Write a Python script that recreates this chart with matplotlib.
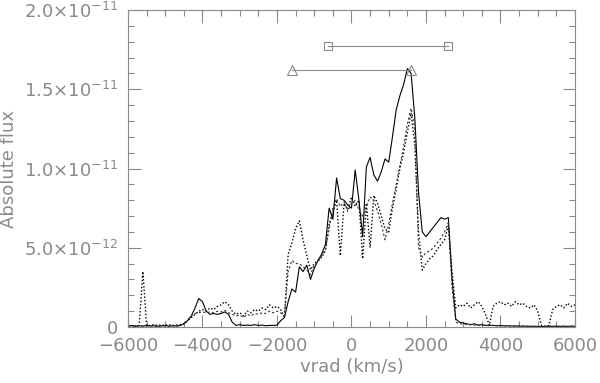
import matplotlib
matplotlib.use("Agg")
import matplotlib.pyplot as plt
import numpy as np
from matplotlib.ticker import MultipleLocator, FixedLocator

# velocity grid (km/s), flux in units of 1e-12
vrad = np.arange(-6000, 6001, 100)

solid = [0.05, 0.1, 0.05, 0.08, 0.05, 0.1, 0.06, 0.08, 0.05, 0.07, 0.1, 0.05, 0.08, 0.06,   # -6000..-4700
         0.1, 0.2, 0.4, 0.7, 1.2, 1.8, 1.6, 1.0, 0.8, 0.85, 0.8, 0.85, 0.95, 0.8, 0.3, 0.1,  # -4600..-3100
         0.15, 0.1, 0.12, 0.1, 0.15, 0.1, 0.12, 0.08, 0.1, 0.1, 0.12, 0.4, 0.6,              # -3000..-1800
         1.6, 2.4, 2.2, 3.8, 3.5, 3.9, 3.0, 3.7, 4.2, 4.6, 5.2, 7.5, 6.8, 9.4, 8.1, 8.0, 7.7,  # -1700..-100
         7.5, 9.9, 8.0, 5.7, 10.1, 10.7, 9.6, 9.2, 9.8, 10.6, 10.4, 12.0, 13.7, 14.6, 15.3,  # 0..1400
         16.3, 16.0, 13.2, 8.5, 6.0, 5.7, 6.0, 6.3, 6.6, 6.9, 6.8, 6.9, 3.0, 0.5, 0.3,       # 1500..2900
         0.25, 0.2, 0.15, 0.2, 0.12, 0.15, 0.1, 0.12, 0.1, 0.08, 0.1, 0.07, 0.08, 0.06, 0.07,  # 3000..4400
         0.05, 0.06, 0.05, 0.04, 0.05, 0.03, 0.02, 0.04, 0.05, 0.04, 0.05, 0.04, 0.05, 0.04, 0.05, 0.05]  # 4500..6000

dotted = [0.05, 0.08, 0.05, 0.1, 3.5, 0.1, 0.1, 0.15, 0.1, 0.12, 0.1, 0.15, 0.1, 0.12,      # -6000..-4700
          0.15, 0.2, 0.4, 0.6, 0.8, 1.0, 1.1, 1.0, 1.2, 1.1, 1.3, 1.4, 1.6, 1.4, 1.0, 0.8,  # -4600..-3100
          0.9, 0.7, 1.0, 0.9, 1.1, 1.0, 1.2, 1.1, 1.4, 1.2, 1.3, 1.1, 0.6,                  # -3000..-1800
          4.6, 5.3, 6.2, 6.7, 5.5, 4.5, 3.6, 4.0, 4.2, 4.4, 4.8, 6.5, 7.2, 8.0, 4.5, 7.8, 7.4,  # -1700..-100
          8.2, 7.6, 8.0, 4.3, 7.8, 5.0, 8.3, 7.8, 7.0, 6.2, 6.0, 7.5, 8.7, 10.0, 11.0,      # 0..1400
          12.3, 13.5, 11.5, 6.0, 3.6, 4.0, 4.3, 4.5, 4.9, 5.2, 5.5, 6.4, 3.5, 1.2, 1.4,     # 1500..2900
          1.3, 1.5, 1.2, 1.4, 1.6, 1.3, 0.8, 0.1, 1.3, 1.5, 1.6, 1.4, 1.5, 1.3, 1.6,        # 3000..4400
          1.4, 1.5, 1.3, 1.2, 1.4, 1.0, 0.1, 0.05, 0.1, 1.1, 1.3, 1.4, 1.2, 1.5, 1.3, 1.4]  # 4500..6000

dashed = [0.05, 0.06, 0.05, 0.07, 0.06, 0.05, 0.08, 0.06, 0.05, 0.07, 0.06, 0.05, 0.07, 0.06,  # -6000..-4700
          0.1, 0.2, 0.45, 0.7, 0.85, 0.9, 0.95, 0.9, 0.95, 0.9, 1.0, 0.95, 1.05, 0.9, 0.8, 0.7,  # -4600..-3100
          0.75, 0.6, 0.8, 0.7, 0.85, 0.8, 0.9, 0.85, 1.0, 0.9, 1.0, 0.9, 0.7,                   # -3000..-1800
          3.5, 4.2, 4.0, 4.0, 3.8, 3.6, 3.3, 3.9, 4.1, 4.5, 4.9, 6.2, 7.5, 8.1, 7.6, 7.9, 7.3,  # -1700..-100
          7.8, 8.0, 7.4, 7.0, 7.6, 8.2, 8.0, 7.3, 6.5, 5.5, 6.5, 7.8, 9.0, 10.2, 11.4,          # 0..1400
          12.8, 13.8, 12.5, 5.0, 4.4, 4.7, 4.8, 5.0, 5.3, 5.6, 6.0, 6.6, 2.5, 0.3, 0.2,         # 1500..2900
          0.2, 0.15, 0.15, 0.12, 0.1, 0.12, 0.1, 0.08, 0.1, 0.08, 0.07, 0.08, 0.06, 0.07, 0.05,  # 3000..4400
          0.06, 0.05, 0.05, 0.04, 0.05, 0.04, 0.03, 0.04, 0.05, 0.04, 0.05, 0.04, 0.05, 0.04, 0.05, 0.05]  # 4500..6000

# the two range bars at the top
square_x = [-630, 2580]
square_y = 1.774e-11
triangle_x = [-1600, 1600]
triangle_y = 1.623e-11

ytick_vals = [0, 5e-12, 1e-11, 1.5e-11, 2e-11]
ytick_labels = ['0', r'$5.0{\times}10^{-12}$', r'$1.0{\times}10^{-11}$',
                r'$1.5{\times}10^{-11}$', r'$2.0{\times}10^{-11}$']

gray = '#8a8a8a'
plt.rcParams['mathtext.default'] = 'regular'
plt.rcParams['font.family'] = ['DejaVu Sans']

fig = plt.figure(figsize=(6, 3.83), dpi=100)
ax = fig.add_axes([0.2133, 0.1462, 0.745, 0.8277])

scale = 1e-12
ax.plot(vrad, np.array(solid) * scale, '-', color='black', lw=0.8)
ax.plot(vrad, np.array(dotted) * scale, color='black', lw=1.0, linestyle=(0, (1, 1.5)))
ax.plot(vrad, np.array(dashed) * scale, color='#333333', lw=0.8, linestyle=(0, (2, 2)))

ax.plot(square_x, [square_y, square_y], '-', color=gray, lw=0.8,
        marker='s', markersize=6, markerfacecolor='none', markeredgecolor=gray, markeredgewidth=0.8)
ax.plot(triangle_x, [triangle_y, triangle_y], '-', color=gray, lw=0.8,
        marker='^', markersize=7, markerfacecolor='none', markeredgecolor=gray, markeredgewidth=0.8)

ax.set_xlim(-6000, 6000)
ax.set_ylim(0, 2e-11)

ax.xaxis.set_major_locator(MultipleLocator(2000))
ax.xaxis.set_minor_locator(MultipleLocator(500))
ax.yaxis.set_major_locator(FixedLocator(ytick_vals))
ax.yaxis.set_minor_locator(MultipleLocator(1e-12))
ax.set_yticklabels(ytick_labels)
ax.set_xticklabels([str(int(v)).replace('-', '\u2212') for v in ax.get_xticks()])

ax.tick_params(which='both', direction='in', top=True, right=True, color=gray,
               labelcolor=gray, labelsize=13, width=0.8)
ax.tick_params(which='major', length=9, pad=7)
ax.tick_params(which='minor', length=4.5)
for s in ax.spines.values():
    s.set_color(gray)
    s.set_linewidth(0.8)

ax.set_xlabel('vrad (km/s)', color=gray, fontsize=13, labelpad=2)
ax.set_ylabel('Absolute flux', color=gray, fontsize=13, labelpad=4)

fig.savefig('out.png', dpi=100)
